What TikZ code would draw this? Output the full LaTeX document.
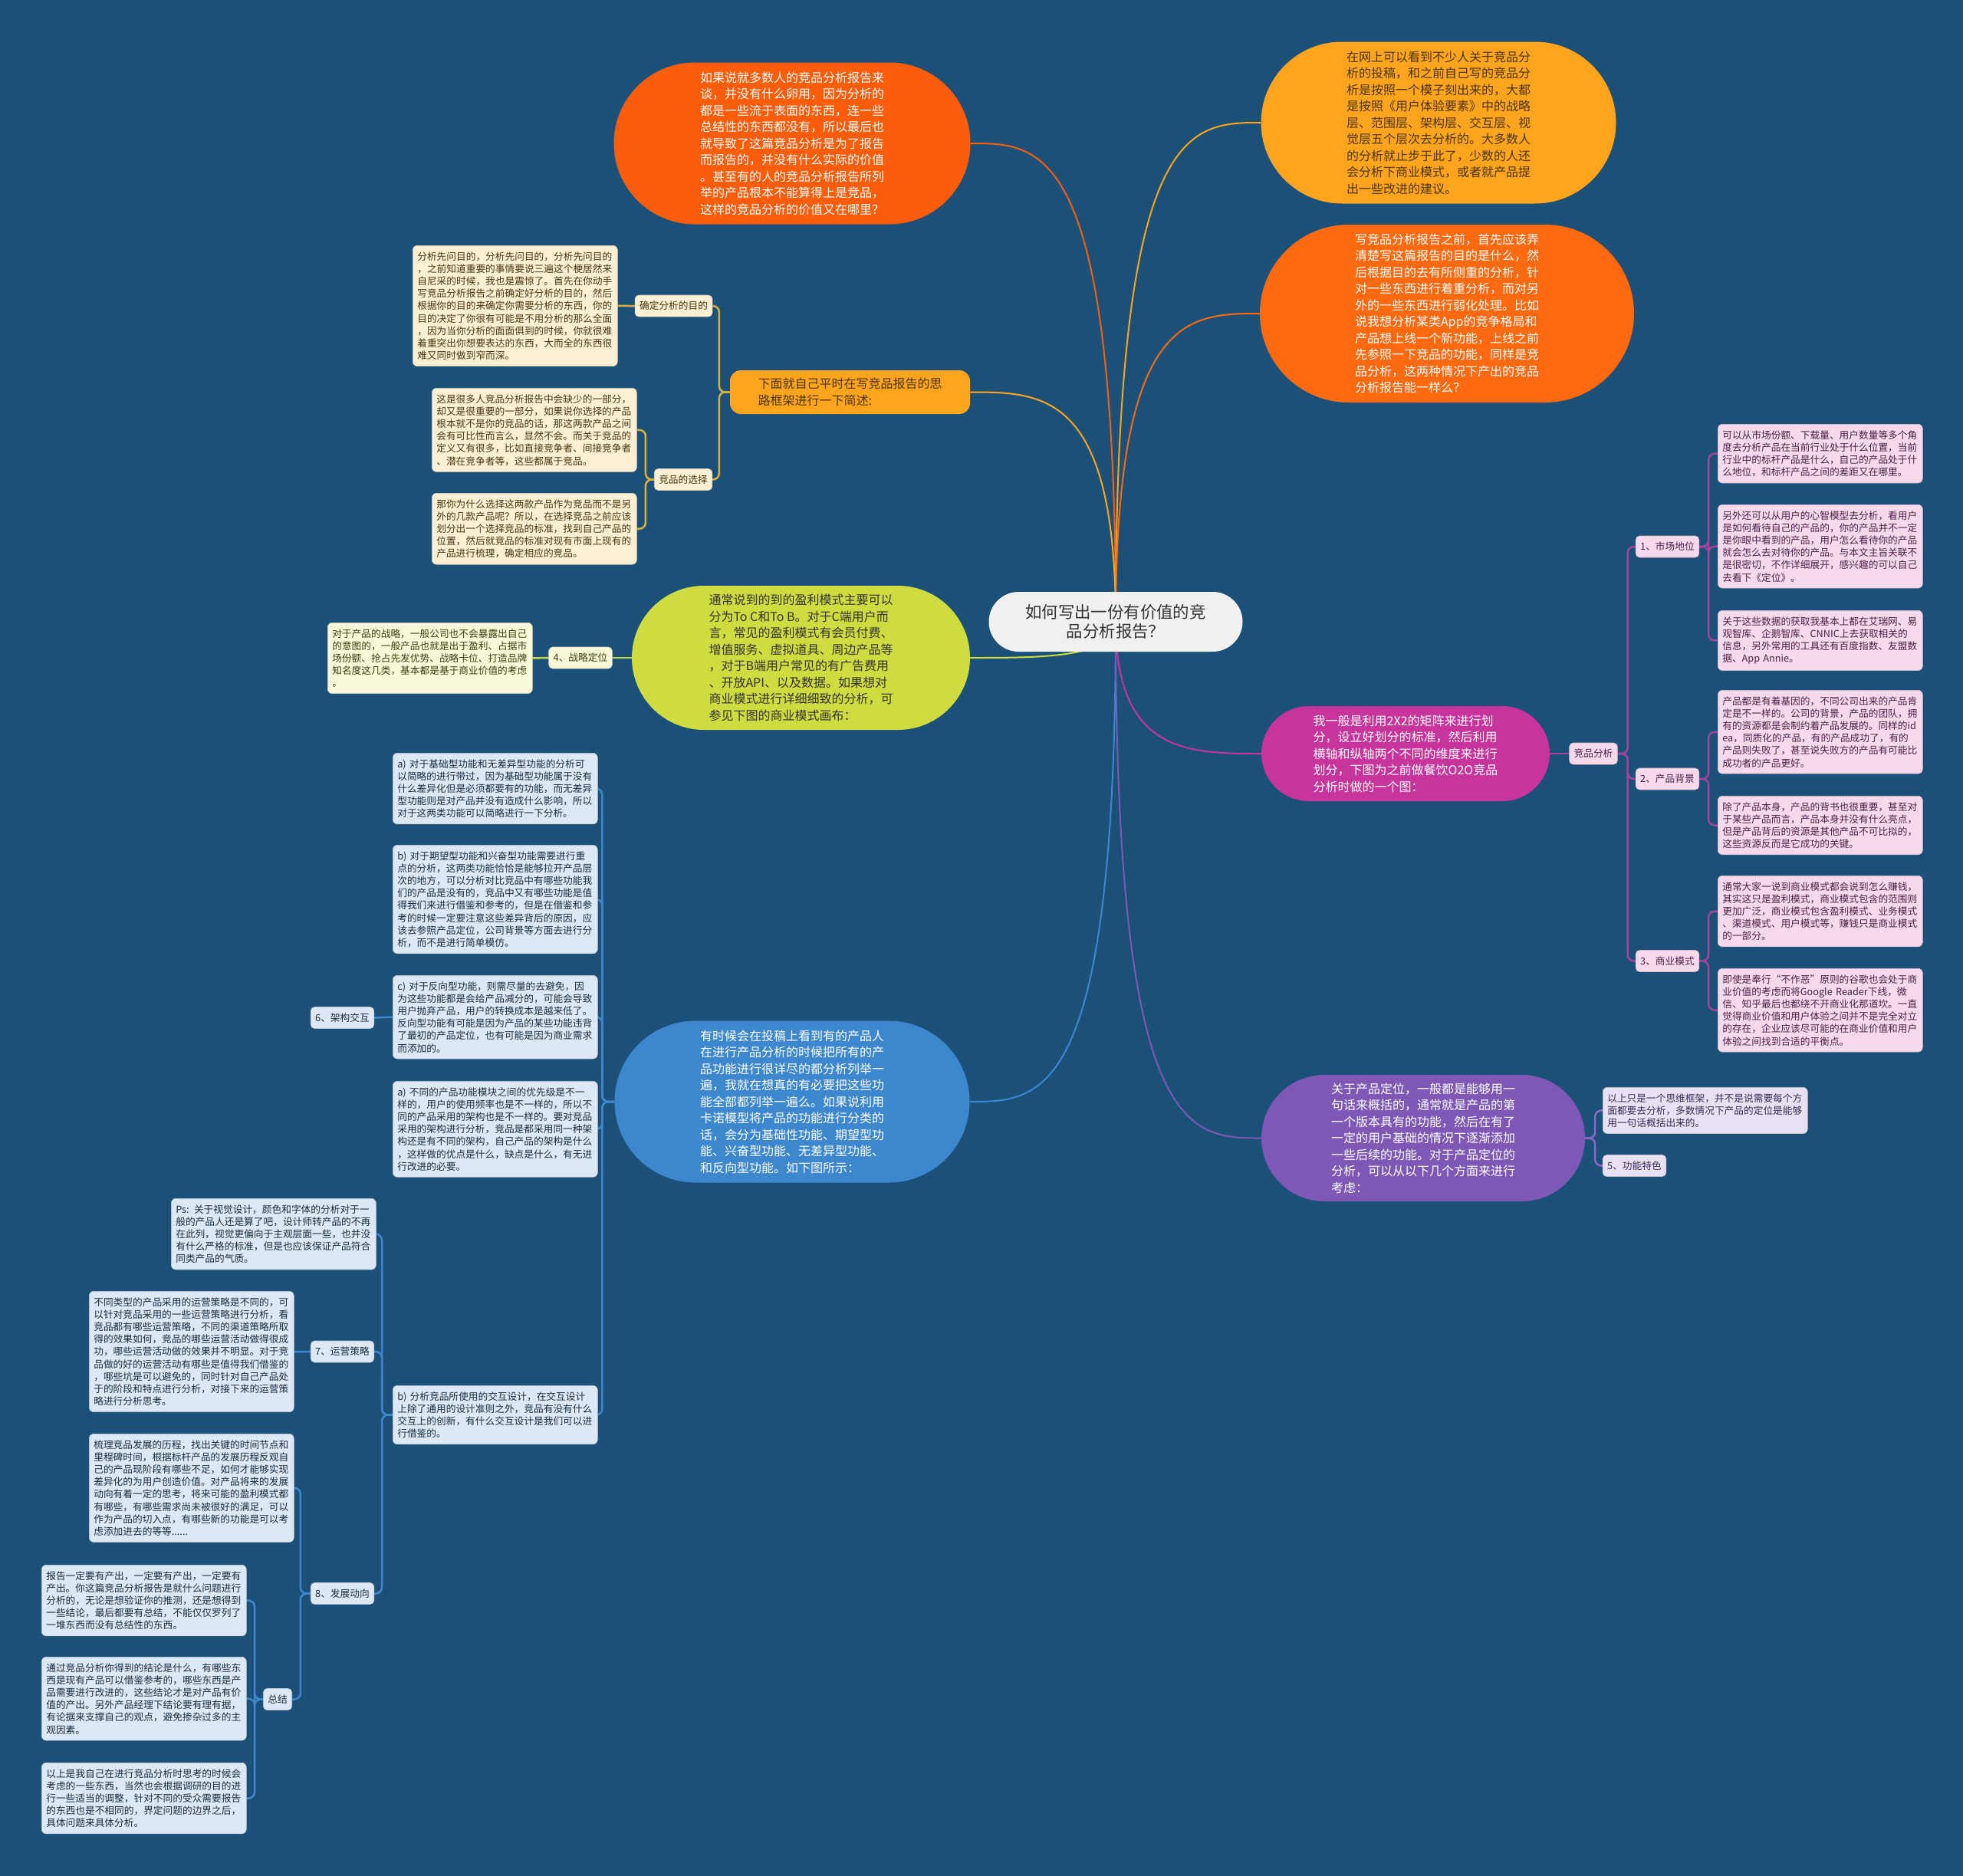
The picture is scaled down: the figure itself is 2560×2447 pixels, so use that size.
\documentclass[tikz,border=0pt]{standalone}
\usepackage{fontspec}
\setmainfont{Noto Sans CJK SC}
\usetikzlibrary{shapes.misc,backgrounds,calc}
\definecolor{bg}{HTML}{1B5078}
\definecolor{orA}{HTML}{FB5D0B}
\definecolor{orC}{HTML}{FF6A10}
\definecolor{amb}{HTML}{FFA51D}
\definecolor{grn}{HTML}{CFDC3F}
\definecolor{mag}{HTML}{C7359C}
\definecolor{pur}{HTML}{7F58B6}
\definecolor{blu}{HTML}{3D87CF}
\definecolor{ctrfill}{HTML}{F0F0F0}
\definecolor{cream}{HTML}{FCEFD3}
\definecolor{creamtx}{HTML}{4A3612}
\definecolor{gline}{HTML}{D8B040}
\definecolor{pink}{HTML}{F6DAEC}
\definecolor{pinktx}{HTML}{4D2046}
\definecolor{pline}{HTML}{A2449E}
\definecolor{lav}{HTML}{E7E1F3}
\definecolor{lavtx}{HTML}{3B2E55}
\definecolor{uline}{HTML}{8D68C4}
\definecolor{lblu}{HTML}{DCE8F5}
\definecolor{lblutx}{HTML}{1C2C40}
\definecolor{pyel}{HTML}{F9F9D9}
\definecolor{pyeltx}{HTML}{3D3D12}
\definecolor{yline}{HTML}{C5D647}
\begin{document}
\begin{tikzpicture}[x=1pt,y=-1pt,
  bubble/.style={rounded rectangle, inner sep=0pt, align=left, font=\fontsize{16}{21.5}\selectfont},
  sbox/.style={rounded corners=6pt, inner xsep=6pt, inner ysep=8pt, text width=255pt, align=left, font=\fontsize{12.7}{16.2}\selectfont, anchor=north west},
  lab/.style={rounded corners=5pt, inner xsep=6pt, inner ysep=0pt, minimum height=28pt, font=\fontsize{12.7}{16.2}\selectfont},
  conn/.style={line width=2.5pt, rounded corners=8pt},
  mainc/.style={line width=2pt},
  gbox/.style={sbox, fill=cream, draw=cream!85!black, line width=0.6pt, text=creamtx},
  glab/.style={lab, fill=cream, draw=cream!85!black, line width=0.6pt, text=creamtx},
  pbox/.style={sbox, fill=pink, draw=pink!85!black, line width=0.6pt, text=pinktx},
  plab/.style={lab, fill=pink, draw=pink!85!black, line width=0.6pt, text=pinktx},
  ubox/.style={sbox, fill=lav, draw=lav!85!black, line width=0.6pt, text=lavtx},
  ulab/.style={lab, fill=lav, draw=lav!85!black, line width=0.6pt, text=lavtx},
  bbox/.style={sbox, fill=lblu, draw=lblu!85!black, line width=0.6pt, text=lblutx},
  blab/.style={lab, fill=lblu, draw=lblu!85!black, line width=0.6pt, text=lblutx},
  ybox/.style={sbox, fill=pyel, draw=pyel!85!black, line width=0.6pt, text=pyeltx},
  ylab/.style={lab, fill=pyel, draw=pyel!85!black, line width=0.6pt, text=pyeltx}
]
\useasboundingbox (0,0) rectangle (2560,2447);

% center
\node[rounded rectangle, fill=ctrfill, minimum width=331, minimum height=78, inner sep=0pt, align=center, font=\fontsize{21.4}{25}\selectfont, text=black!80] (ctr) at (1455,811) {如何写出一份有价值的竞\\品分析报告？};

% bubbles
\node[bubble, fill=orA, text=white, minimum width=465, minimum height=211] (a1) at (1033,187) {如果说就多数人的竞品分析报告来\\谈，并没有什么卵用，因为分析的\\都是一些流于表面的东西，连一些\\总结性的东西都没有，所以最后也\\就导致了这篇竞品分析是为了报告\\而报告的，并没有什么实际的价值\\。甚至有的人的竞品分析报告所列\\举的产品根本不能算得上是竞品，\\这样的竞品分析的价值又在哪里？};

\node[bubble, fill=amb, text=creamtx, minimum width=463, minimum height=211] (a2) at (1876,160) {在网上可以看到不少人关于竞品分\\析的投稿，和之前自己写的竞品分\\析是按照一个模子刻出来的，大都\\是按照《用户体验要素》中的战略\\层、范围层、架构层、交互层、视\\觉层五个层次去分析的。大多数人\\的分析就止步于此了，少数的人还\\会分析下商业模式，或者就产品提\\出一些改进的建议。};

\node[bubble, fill=orC, text=white, minimum width=488, minimum height=232] (a3) at (1887,409) {写竞品分析报告之前，首先应该弄\\清楚写这篇报告的目的是什么，然\\后根据目的去有所侧重的分析，针\\对一些东西进行着重分析，而对另\\外的一些东西进行弱化处理。比如\\说我想分析某类App的竞争格局和\\产品想上线一个新功能，上线之前\\先参照一下竞品的功能，同样是竞\\品分析，这两种情况下产出的竞品\\分析报告能一样么？};

\node[rounded corners=14pt, fill=amb, text=creamtx, minimum width=313, minimum height=57, inner sep=0pt, align=left, font=\fontsize{16}{21.5}\selectfont] (xm) at (1108.5,511.5) {下面就自己平时在写竞品报告的思\\路框架进行一下简述:};

\node[bubble, fill=grn, text=black!80, minimum width=441, minimum height=188] (gr) at (1044.5,858) {通常说到的到的盈利模式主要可以\\分为To C和To B。对于C端用户而\\言，常见的盈利模式有会员付费、\\增值服务、虚拟道具、周边产品等\\，对于B端用户常见的有广告费用\\、开放API、以及数据。如果想对\\商业模式进行详细细致的分析，可\\参见下图的商业模式画布：};

\node[bubble, fill=mag, text=white, minimum width=376, minimum height=124] (mg) at (1833,983) {我一般是利用2X2的矩阵来进行划\\分，设立好划分的标准，然后利用\\横轴和纵轴两个不同的维度来进行\\划分，下图为之前做餐饮O2O竞品\\分析时做的一个图：};

\node[bubble, fill=pur, text=white, minimum width=422, minimum height=165] (pu) at (1856,1484.5) {关于产品定位，一般都是能够用一\\句话来概括的，通常就是产品的第\\一个版本具有的功能，然后在有了\\一定的用户基础的情况下逐渐添加\\一些后续的功能。对于产品定位的\\分析，可以从以下几个方面来进行\\考虑：};

\node[bubble, fill=blu, text=white, minimum width=463, minimum height=211] (bl) at (1033,1437) {有时候会在投稿上看到有的产品人\\在进行产品分析的时候把所有的产\\品功能进行很详尽的都分析列举一\\遍，我就在想真的有必要把这些功\\能全部都列举一遍么。如果说利用\\卡诺模型将产品的功能进行分类的\\话，会分为基础性功能、期望型功\\能、兴奋型功能、无差异型功能、\\和反向型功能。如下图所示：};

% gold branch
\node[glab] (qd) at (878.5,399) {确定分析的目的};
\node[glab] (jx) at (891,625.5) {竞品的选择};
\node[gbox] (g1) at (538,320) {分析先问目的，分析先问目的，分析先问目的\\，之前知道重要的事情要说三遍这个梗居然来\\自尼采的时候，我也是震惊了。首先在你动手\\写竞品分析报告之前确定好分析的目的，然后\\根据你的目的来确定你需要分析的东西，你的\\目的决定了你很有可能是不用分析的那么全面\\，因为当你分析的面面俱到的时候，你就很难\\着重突出你想要表达的东西，大而全的东西很\\难又同时做到窄而深。};
\node[gbox] (g2) at (563,506) {这是很多人竞品分析报告中会缺少的一部分，\\却又是很重要的一部分，如果说你选择的产品\\根本就不是你的竞品的话，那这两款产品之间\\会有可比性而言么，显然不会。而关于竞品的\\定义又有很多，比如直接竞争者、间接竞争者\\、潜在竞争者等，这些都属于竞品。};
\node[gbox] (g3) at (563,643) {那你为什么选择这两款产品作为竞品而不是另\\外的几款产品呢？所以，在选择竞品之前应该\\划分出一个选择竞品的标准，找到自己产品的\\位置，然后就竞品的标准对现有市面上现有的\\产品进行梳理，确定相应的竞品。};

% green branch
\node[ylab] (zl) at (757,858) {4、战略定位};
\node[ybox] (y1) at (427,812) {对于产品的战略，一般公司也不会暴露出自己\\的意图的，一般产品也就是出于盈利、占据市\\场份额、抢占先发优势、战略卡位、打造品牌\\知名度这几类，基本都是基于商业价值的考虑\\。};

% magenta branch
\node[plab] (jp) at (2078,983) {竞品分析};
\node[plab] (s1) at (2174.5,713) {1、市场地位};
\node[plab] (s2) at (2174.5,1016) {2、产品背景};
\node[plab] (s3) at (2174.5,1253.5) {3、商业模式};
\node[pbox] (p1) at (2240,553) {可以从市场份额、下载量、用户数量等多个角\\度去分析产品在当前行业处于什么位置，当前\\行业中的标杆产品是什么，自己的产品处于什\\么地位，和标杆产品之间的差距又在哪里。};
\node[pbox] (p2) at (2240,658) {另外还可以从用户的心智模型去分析，看用户\\是如何看待自己的产品的，你的产品并不一定\\是你眼中看到的产品，用户怎么看待你的产品\\就会怎么去对待你的产品。与本文主旨关联不\\是很密切，不作详细展开，感兴趣的可以自己\\去看下《定位》。};
\node[pbox] (p3) at (2240,796) {关于这些数据的获取我基本上都在艾瑞网、易\\观智库、企鹅智库、CNNIC上去获取相关的\\信息，另外常用的工具还有百度指数、友盟数\\据、App Annie。};
\node[pbox] (p4) at (2240,900) {产品都是有着基因的，不同公司出来的产品肯\\定是不一样的。公司的背景，产品的团队，拥\\有的资源都是会制约着产品发展的。同样的id\\ea，同质化的产品，有的产品成功了，有的\\产品则失败了，甚至说失败方的产品有可能比\\成功者的产品更好。};
\node[pbox] (p5) at (2240,1038) {除了产品本身，产品的背书也很重要，甚至对\\于某些产品而言，产品本身并没有什么亮点，\\但是产品背后的资源是其他产品不可比拟的，\\这些资源反而是它成功的关键。};
\node[pbox] (p6) at (2240,1142) {通常大家一说到商业模式都会说到怎么赚钱，\\其实这只是盈利模式，商业模式包含的范围则\\更加广泛，商业模式包含盈利模式、业务模式\\、渠道模式、用户模式等，赚钱只是商业模式\\的一部分。};
\node[pbox] (p7) at (2240,1263) {即使是奉行“不作恶”原则的谷歌也会处于商\\业价值的考虑而将Google Reader下线，微\\信、知乎最后也都绕不开商业化那道坎。一直\\觉得商业价值和用户体验之间并不是完全对立\\的存在，企业应该尽可能的在商业价值和用户\\体验之间找到合适的平衡点。};

% purple branch
\node[ubox] (l1) at (2090,1418) {以上只是一个思维框架，并不是说需要每个方\\面都要去分析，多数情况下产品的定位是能够\\用一句话概括出来的。};
\node[ulab] (gn) at (2131.5,1520.5) {5、功能特色};

% blue branch
\node[bbox] (ba1) at (512,982) {a) 对于基础型功能和无差异型功能的分析可\\以简略的进行带过，因为基础型功能属于没有\\什么差异化但是必须都要有的功能，而无差异\\型功能则是对产品并没有造成什么影响，所以\\对于这两类功能可以简略进行一下分析。};
\node[bbox] (bb1) at (512,1102) {b) 对于期望型功能和兴奋型功能需要进行重\\点的分析，这两类功能恰恰是能够拉开产品层\\次的地方，可以分析对比竞品中有哪些功能我\\们的产品是没有的，竞品中又有哪些功能是值\\得我们来进行借鉴和参考的，但是在借鉴和参\\考的时候一定要注意这些差异背后的原因，应\\该去参照产品定位，公司背景等方面去进行分\\析，而不是进行简单模仿。};
\node[bbox] (bc) at (512,1272) {c) 对于反向型功能，则需尽量的去避免，因\\为这些功能都是会给产品减分的，可能会导致\\用户抛弃产品，用户的转换成本是越来低了。\\反向型功能有可能是因为产品的某些功能违背\\了最初的产品定位，也有可能是因为商业需求\\而添加的。};
\node[bbox] (ba2) at (512,1410) {a) 不同的产品功能模块之间的优先级是不一\\样的，用户的使用频率也是不一样的，所以不\\同的产品采用的架构也是不一样的。要对竞品\\采用的架构进行分析，竞品是都采用同一种架\\构还是有不同的架构，自己产品的架构是什么\\，这样做的优点是什么，缺点是什么，有无进\\行改进的必要。};
\node[bbox] (bb2) at (512,1807) {b) 分析竞品所使用的交互设计，在交互设计\\上除了通用的设计准则之外，竞品有没有什么\\交互上的创新，有什么交互设计是我们可以进\\行借鉴的。};
\node[blab] (s6) at (446.5,1327.5) {6、架构交互};
\node[blab] (s7) at (446.5,1763) {7、运营策略};
\node[blab] (s8) at (446.5,2078.5) {8、发展动向};
\node[blab] (zj) at (362,2216.5) {总结};
\node[bbox] (ps) at (223,1563) {Ps: 关于视觉设计，颜色和字体的分析对于一\\般的产品人还是算了吧，设计师转产品的不再\\在此列，视觉更偏向于主观层面一些，也并没\\有什么严格的标准，但是也应该保证产品符合\\同类产品的气质。};
\node[bbox] (yy) at (116,1684) {不同类型的产品采用的运营策略是不同的，可\\以针对竞品采用的一些运营策略进行分析，看\\竞品都有哪些运营策略，不同的渠道策略所取\\得的效果如何，竞品的哪些运营活动做得很成\\功，哪些运营活动做的效果并不明显。对于竞\\品做的好的运营活动有哪些是值得我们借鉴的\\，哪些坑是可以避免的，同时针对自己产品处\\于的阶段和特点进行分析，对接下来的运营策\\略进行分析思考。};
\node[bbox] (sl) at (116,1870) {梳理竞品发展的历程，找出关键的时间节点和\\里程碑时间，根据标杆产品的发展历程反观自\\己的产品现阶段有哪些不足，如何才能够实现\\差异化的为用户创造价值。对产品将来的发展\\动向有着一定的思考，将来可能的盈利模式都\\有哪些，有哪些需求尚未被很好的满足，可以\\作为产品的切入点，有哪些新的功能是可以考\\虑添加进去的等等......};
\node[bbox] (z1) at (54,2041) {报告一定要有产出，一定要有产出，一定要有\\产出。你这篇竞品分析报告是就什么问题进行\\分析的，无论是想验证你的推测，还是想得到\\一些结论，最后都要有总结，不能仅仅罗列了\\一堆东西而没有总结性的东西。};
\node[bbox] (z2) at (54,2161) {通过竞品分析你得到的结论是什么，有哪些东\\西是现有产品可以借鉴参考的，哪些东西是产\\品需要进行改进的，这些结论才是对产品有价\\值的产出。另外产品经理下结论要有理有据，\\有论据来支撑自己的观点，避免掺杂过多的主\\观因素。};
\node[bbox] (z3) at (54,2299) {以上是我自己在进行竞品分析时思考的时候会\\考虑的一些东西，当然也会根据调研的目的进\\行一些适当的调整，针对不同的受众需要报告\\的东西也是不相同的，界定问题的边界之后，\\具体问题来具体分析。};

\begin{pgfonlayer}{background}
\fill[bg] (0,0) rectangle (2560,2447);
% main connectors
\draw[mainc, draw=orA] (ctr.center) .. controls (ctr.center |- a1.east) and ($(ctr.center |- a1.east)!0.5!(a1.east)$) .. (a1.east);
\draw[mainc, draw=amb] (ctr.center) .. controls (ctr.center |- a2.west) and ($(ctr.center |- a2.west)!0.5!(a2.west)$) .. (a2.west);
\draw[mainc, draw=orC] (ctr.center) .. controls (ctr.center |- a3.west) and ($(ctr.center |- a3.west)!0.5!(a3.west)$) .. (a3.west);
\draw[mainc, draw=amb] (ctr.center) .. controls (ctr.center |- xm.east) and ($(ctr.center |- xm.east)!0.5!(xm.east)$) .. (xm.east);
\draw[mainc, draw=grn] (ctr.center) .. controls (ctr.center |- gr.east) and ($(ctr.center |- gr.east)!0.5!(gr.east)$) .. (gr.east);
\draw[mainc, draw=mag] (ctr.center) .. controls (ctr.center |- mg.west) and ($(ctr.center |- mg.west)!0.5!(mg.west)$) .. (mg.west);
\draw[mainc, draw=blu] (ctr.center) .. controls (ctr.center |- bl.east) and ($(ctr.center |- bl.east)!0.5!(bl.east)$) .. (bl.east);
\draw[mainc, draw=pur] (ctr.center) .. controls (ctr.center |- pu.west) and ($(ctr.center |- pu.west)!0.5!(pu.west)$) .. (pu.west);
% gold
\draw[conn, draw=gline] (xm.west) -- ++(-14,0) |- (qd.east);
\draw[conn, draw=gline] (xm.west) -- ++(-14,0) |- (jx.east);
\draw[conn, draw=gline] (qd.west) -- (g1.east);
\draw[conn, draw=gline] (jx.west) -- ++(-11,0) |- (g2.east);
\draw[conn, draw=gline] (jx.west) -- ++(-11,0) |- (g3.east);
% green
\draw[conn, draw=yline] (gr.west) -- (zl.east);
\draw[conn, draw=yline] (zl.west) -- (y1.east);
% magenta
\draw[conn, draw=pline] (mg.east) -- (jp.west);
\draw[conn, draw=pline] (jp.east) -- ++(13,0) |- (s1.west);
\draw[conn, draw=pline] (jp.east) -- ++(13,0) |- (s2.west);
\draw[conn, draw=pline] (jp.east) -- ++(13,0) |- (s3.west);
\draw[conn, draw=pline] (s1.east) -- ++(12,0) |- (p1.west);
\draw[conn, draw=pline] (s1.east) -- ++(12,0) |- (p2.west);
\draw[conn, draw=pline] (s1.east) -- ++(12,0) |- (p3.west);
\draw[conn, draw=pline] (s2.east) -- ++(12,0) |- (p4.west);
\draw[conn, draw=pline] (s2.east) -- ++(12,0) |- (p5.west);
\draw[conn, draw=pline] (s3.east) -- ++(12,0) |- (p6.west);
\draw[conn, draw=pline] (s3.east) -- ++(12,0) |- (p7.west);
% purple
\draw[conn, draw=uline] (pu.east) -- ++(13,0) |- (l1.west);
\draw[conn, draw=uline] (pu.east) -- ++(13,0) |- (gn.west);
% blue
\draw[conn, draw=blu] (bl.west) -- ++(-16,0) |- (ba1.east);
\draw[conn, draw=blu] (bl.west) -- ++(-16,0) |- (bb1.east);
\draw[conn, draw=blu] (bl.west) -- ++(-16,0) |- (bc.east);
\draw[conn, draw=blu] (bl.west) -- ++(-16,0) |- (ba2.east);
\draw[conn, draw=blu] (bl.west) -- ++(-16,0) |- (bb2.east);
\draw[conn, draw=blu] (bc.west) -- (s6.east);
\draw[conn, draw=blu] (bb2.west) -- ++(-14,0) |- (ps.east);
\draw[conn, draw=blu] (bb2.west) -- ++(-14,0) |- (s7.east);
\draw[conn, draw=blu] (bb2.west) -- ++(-14,0) |- (s8.east);
\draw[conn, draw=blu] (s7.west) -- (yy.east);
\draw[conn, draw=blu] (s8.west) -- ++(-13,0) |- (sl.east);
\draw[conn, draw=blu] (s8.west) -- ++(-13,0) |- (zj.east);
\draw[conn, draw=blu] (zj.west) -- ++(-11,0) |- (z1.east);
\draw[conn, draw=blu] (zj.west) -- ++(-11,0) |- (z2.east);
\draw[conn, draw=blu] (zj.west) -- ++(-11,0) |- (z3.east);
\end{pgfonlayer}
\end{tikzpicture}
\end{document}
